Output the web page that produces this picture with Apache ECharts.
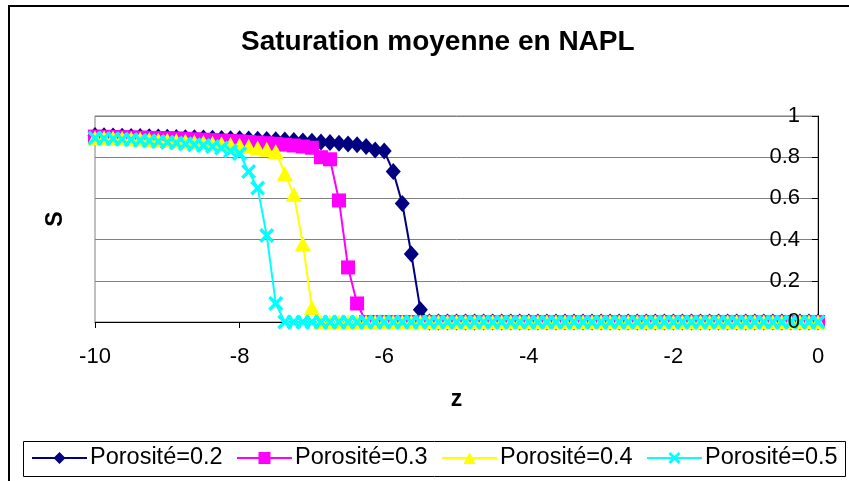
<!DOCTYPE html>
<html>
<head>
<meta charset="utf-8">
<script src="https://cdn.jsdelivr.net/npm/echarts@6/dist/echarts.min.js"></script>
<style>
  html, body { margin: 0; padding: 0; background: #fff; }
  #chart { width: 849px; height: 481px; }
</style>
</head>
<body>
<div id="chart"></div>
<script>
// Depth coordinate z (m), one value per cell
const z = [-10, -9.875, -9.75, -9.625, -9.5, -9.375, -9.25, -9.125, -9, -8.875,
  -8.75, -8.625, -8.5, -8.375, -8.25, -8.125, -8, -7.875, -7.75, -7.625,
  -7.5, -7.375, -7.25, -7.125, -7, -6.875, -6.75, -6.625, -6.5, -6.375,
  -6.25, -6.125, -6, -5.875, -5.75, -5.625, -5.5, -5.375, -5.25, -5.125,
  -5, -4.875, -4.75, -4.625, -4.5, -4.375, -4.25, -4.125, -4, -3.875,
  -3.75, -3.625, -3.5, -3.375, -3.25, -3.125, -3, -2.875, -2.75, -2.625,
  -2.5, -2.375, -2.25, -2.125, -2, -1.875, -1.75, -1.625, -1.5, -1.375,
  -1.25, -1.125, -1, -0.875, -0.75, -0.625, -0.5, -0.375, -0.25, -0.125, 0];

// Mean NAPL saturation for each porosity
const sPoro02 = [0.905, 0.904, 0.903, 0.902, 0.901, 0.900, 0.899, 0.898, 0.897, 0.896,
  0.895, 0.894, 0.893, 0.892, 0.891, 0.890, 0.889, 0.888, 0.887, 0.886,
  0.885, 0.883, 0.881, 0.879, 0.877, 0.874, 0.871, 0.868, 0.864, 0.860,
  0.852, 0.835, 0.830, 0.73, 0.575, 0.33, 0.06, 0, 0, 0,
  0, 0, 0, 0, 0, 0, 0, 0, 0, 0,
  0, 0, 0, 0, 0, 0, 0, 0, 0, 0,
  0, 0, 0, 0, 0, 0, 0, 0, 0, 0,
  0, 0, 0, 0, 0, 0, 0, 0, 0, 0, 0];

const sPoro03 = [0.900, 0.899, 0.898, 0.897, 0.896, 0.895, 0.894, 0.893, 0.892, 0.891,
  0.889, 0.887, 0.885, 0.883, 0.881, 0.879, 0.877, 0.874, 0.871, 0.868,
  0.865, 0.861, 0.857, 0.852, 0.846, 0.80, 0.79, 0.59, 0.265, 0.09,
  0, 0, 0, 0, 0, 0, 0, 0, 0, 0,
  0, 0, 0, 0, 0, 0, 0, 0, 0, 0,
  0, 0, 0, 0, 0, 0, 0, 0, 0, 0,
  0, 0, 0, 0, 0, 0, 0, 0, 0, 0,
  0, 0, 0, 0, 0, 0, 0, 0, 0, 0, 0];

const sPoro04 = [0.895, 0.894, 0.893, 0.892, 0.890, 0.888, 0.886, 0.884, 0.882, 0.880,
  0.877, 0.874, 0.871, 0.868, 0.865, 0.862, 0.858, 0.853, 0.845, 0.838,
  0.828, 0.72, 0.62, 0.38, 0.07, 0, 0, 0, 0, 0,
  0, 0, 0, 0, 0, 0, 0, 0, 0, 0,
  0, 0, 0, 0, 0, 0, 0, 0, 0, 0,
  0, 0, 0, 0, 0, 0, 0, 0, 0, 0,
  0, 0, 0, 0, 0, 0, 0, 0, 0, 0,
  0, 0, 0, 0, 0, 0, 0, 0, 0, 0, 0];

const sPoro05 = [0.893, 0.891, 0.889, 0.887, 0.885, 0.882, 0.879, 0.876, 0.873, 0.869,
  0.865, 0.861, 0.857, 0.852, 0.845, 0.830, 0.818, 0.73, 0.65, 0.42,
  0.09, 0, 0, 0, 0, 0, 0, 0, 0, 0,
  0, 0, 0, 0, 0, 0, 0, 0, 0, 0,
  0, 0, 0, 0, 0, 0, 0, 0, 0, 0,
  0, 0, 0, 0, 0, 0, 0, 0, 0, 0,
  0, 0, 0, 0, 0, 0, 0, 0, 0, 0,
  0, 0, 0, 0, 0, 0, 0, 0, 0, 0, 0];

const seriesNames = ['Porosité=0.2', 'Porosité=0.3', 'Porosité=0.4', 'Porosité=0.5'];
const seriesValues = [sPoro02, sPoro03, sPoro04, sPoro05];
const seriesColors = ['#000080', '#FF00FF', '#FFFF00', '#00FFFF'];

const FONT = '"Liberation Sans", Arial, sans-serif';
const crossPath = 'path://M0,1.6 L1.6,0 L5,3.4 L8.4,0 L10,1.6 L6.6,5 L10,8.4 L8.4,10 L5,6.6 L1.6,10 L0,8.4 L3.4,5 Z';
const markers = [
  { symbol: 'diamond', size: [15, 17] },
  { symbol: 'rect', size: 14 },
  { symbol: 'triangle', size: [16, 15] },
  { symbol: crossPath, size: 15 }
];

const series = seriesNames.map((name, k) => ({
  name: name,
  type: 'line',
  data: z.map((zv, i) => [zv, seriesValues[k][i]]),
  symbol: markers[k].symbol,
  symbolSize: markers[k].size,
  showAllSymbol: true,
  lineStyle: { color: seriesColors[k], width: 2 },
  itemStyle: { color: seriesColors[k], borderWidth: 0 },
  emphasis: { disabled: true }
}));

// One legend entry per component so the four entries sit on a single row
const legendLefts = [31, 236, 441, 646];
const legends = seriesNames.map((name, k) => ({
  data: [name],
  left: legendLefts[k],
  top: 446,
  padding: 0,
  itemWidth: 55,
  itemHeight: 15,
  textStyle: { fontFamily: FONT, fontSize: 23.5, color: '#000', padding: [0, 0, 0, -2] }
}));

const chart = echarts.init(document.getElementById('chart'), null, { renderer: 'canvas' });
chart.setOption({
  animation: false,
  backgroundColor: '#fff',
  textStyle: { fontFamily: FONT },
  title: {
    text: 'Saturation moyenne en NAPL',
    left: 236,
    top: 23,
    textStyle: { fontFamily: FONT, fontSize: 28, fontWeight: 'bold', color: '#000' }
  },
  graphic: [{
    // chart-area frame
    type: 'rect',
    shape: { x: 9, y: 6, width: 860, height: 490 },
    style: { fill: null, stroke: '#000', lineWidth: 2 },
    silent: true,
    z: -1
  }, {
    // legend frame
    type: 'rect',
    shape: { x: 23.5, y: 441.5, width: 822, height: 35 },
    style: { fill: '#fff', stroke: '#000', lineWidth: 1 },
    silent: true,
    z: -1
  }],
  grid: {
    left: 95, right: 31, top: 116, bottom: 159,
    show: true, borderColor: '#808080', borderWidth: 1, backgroundColor: '#fff'
  },
  legend: legends,
  xAxis: {
    type: 'value',
    min: -10, max: 0, interval: 2,
    name: 'z',
    nameLocation: 'middle',
    nameGap: 66,
    nameTextStyle: { fontFamily: FONT, fontSize: 23, fontWeight: 'bold', color: '#000' },
    axisLine: { onZero: false, lineStyle: { color: '#000', width: 1 } },
    axisTick: { length: 6, lineStyle: { color: '#000' } },
    axisLabel: { fontFamily: FONT, fontSize: 22, color: '#000', margin: 24 },
    splitLine: { show: false }
  },
  yAxis: [{
    // value axis with grid lines, drawn beneath the curves
    type: 'value',
    position: 'right',
    min: 0, max: 1, interval: 0.2,
    axisLine: { show: true, onZero: false, lineStyle: { color: '#000', width: 1 } },
    axisTick: { show: true, inside: true, length: 6, lineStyle: { color: '#000' } },
    axisLabel: { show: false },
    splitLine: { show: true, lineStyle: { color: '#808080', width: 1 } }
  }, {
    // tick labels on top of the curves
    type: 'value',
    position: 'right',
    min: 0, max: 1, interval: 0.2,
    z: 10,
    axisLine: { show: false },
    axisTick: { show: false },
    axisLabel: { inside: true, margin: 18, fontFamily: FONT, fontSize: 22, color: '#000' },
    splitLine: { show: false }
  }, {
    type: 'value',
    position: 'left',
    min: 0, max: 1,
    name: 'S',
    nameLocation: 'middle',
    nameGap: 28,
    nameRotate: 90,
    nameTextStyle: { fontFamily: FONT, fontSize: 23, fontWeight: 'bold', color: '#000' },
    axisLine: { show: false },
    axisTick: { show: false },
    axisLabel: { show: false },
    splitLine: { show: false }
  }],
  series: series
});
</script>
</body>
</html>
